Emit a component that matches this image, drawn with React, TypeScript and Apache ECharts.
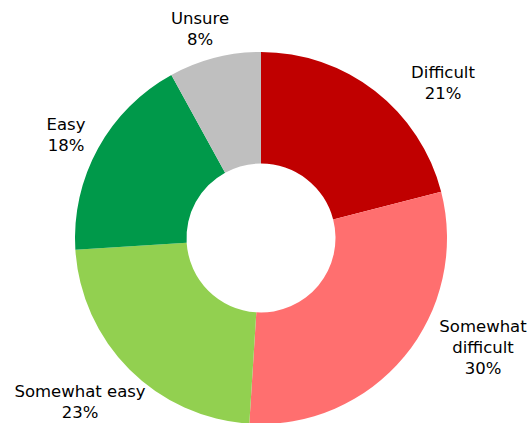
import React, { useEffect, useRef } from "react";
import * as echarts from "echarts";

const categories = ["Difficult", "Somewhat\ndifficult", "Somewhat easy", "Easy", "Unsure"];
const values = [21, 30, 23, 18, 8];
const colors = ["#C00000", "#FF6F6F", "#92D050", "#00994A", "#BFBFBF"];
// label anchor (centre of text block) in pixels
const labelAnchors: [number, number][] = [
  [443, 83],
  [483, 347],
  [80, 402],
  [66, 135],
  [200, 29],
];

export default function App() {
  const ref = useRef<HTMLDivElement>(null);
  useEffect(() => {
    document.body.style.margin = "0";
    const chart = echarts.init(ref.current!, null, { renderer: "svg" });
    chart.setOption({
      animation: false,
      backgroundColor: "#ffffff",
      series: [
        {
          type: "pie",
          center: [261, 238],
          radius: [74.5, 186],
          startAngle: 90,
          clockwise: true,
          avoidLabelOverlap: false,
          data: categories.map((name, i) => ({
            name,
            value: values[i],
            itemStyle: { color: colors[i] },
          })),
          label: {
            show: true,
            position: "outside",
            formatter: (p: any) => `${p.name}\n${p.value}%`,
            fontFamily: "DejaVu Sans",
            fontSize: 16.5,
            lineHeight: 21,
            color: "#000000",
            align: "center",
          },
          labelLine: { show: false },
          labelLayout: (params: any) => {
            const a = labelAnchors[params.dataIndex];
            return { x: a[0], y: a[1], align: "center", verticalAlign: "middle" };
          },
          emphasis: { disabled: true },
        },
      ],
    });
    return () => chart.dispose();
  }, []);
  return <div ref={ref} style={{ width: 530, height: 423 }} />;
}
